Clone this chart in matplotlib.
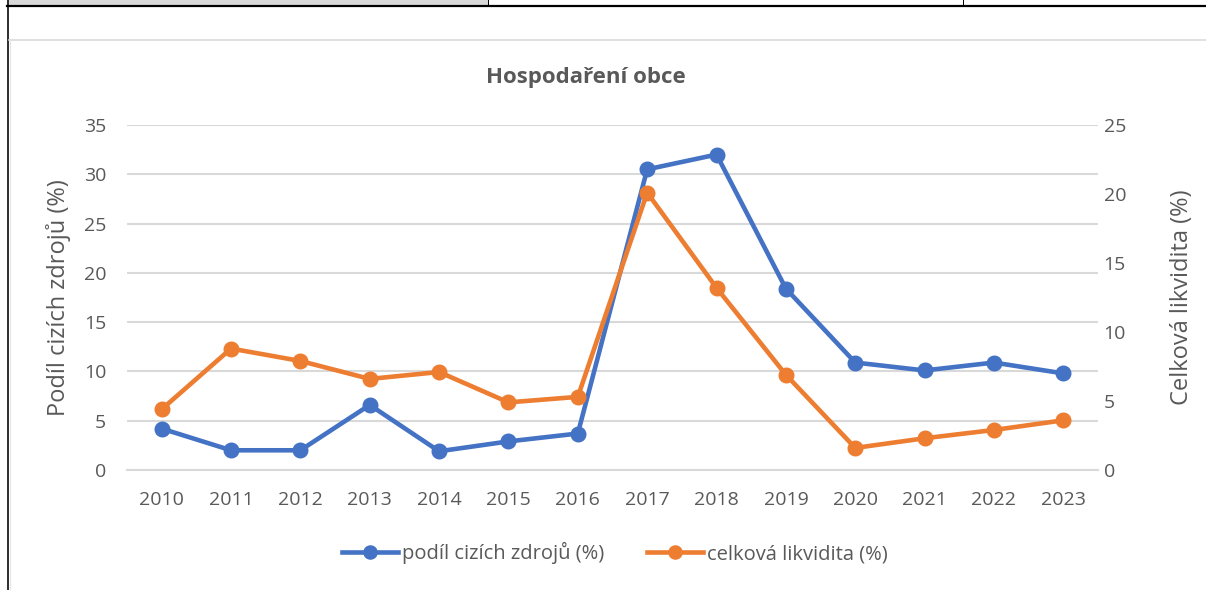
import matplotlib
matplotlib.use("Agg")
import matplotlib.pyplot as plt
from matplotlib.lines import Line2D

years = ["2010", "2011", "2012", "2013", "2014", "2015", "2016",
         "2017", "2018", "2019", "2020", "2021", "2022", "2023"]
podil_cizich = [4.2, 2.0, 2.0, 6.6, 1.9, 2.9, 3.7, 30.5, 32.0, 18.4, 10.9, 10.1, 10.9, 9.8]
likvidita = [4.4, 8.8, 7.9, 6.6, 7.1, 4.9, 5.3, 20.1, 13.2, 6.9, 1.6, 2.3, 2.9, 3.6]
left_ticks = [0, 5, 10, 15, 20, 25, 30, 35]
right_ticks = [0, 5, 10, 15, 20, 25]

BLUE = "#4472C4"
ORANGE = "#ED7D31"
GREY = "#595959"
GRID = "#D9D9D9"

plt.rcParams['font.family'] = ['Open Sans', 'DejaVu Sans']

W, H = 1206, 590
fig = plt.figure(figsize=(W / 100, H / 100), dpi=100)

# decorative frame (document table fragment)
def px(x, y):
    return x / W, 1 - y / H

fig.patches.append(plt.Rectangle(px(9, 5), (488 - 9) / W, 5 / H, transform=fig.transFigure,
                                 facecolor="#D9D9D9", edgecolor="none"))
for (x0, y0, x1, y1, c, lw) in [
    (7, 5.5, 1206, 5.5, "black", 2.2),
    (8, 0, 8, 590, "black", 1.6),
    (488, 0, 488, 5.5, "black", 1.0),
    (963, 0, 963, 5.5, "black", 1.0),
    (9, 40, 1206, 40, "#D9D9D9", 1.6),
    (10, 40, 10, 590, "#E6E6E6", 1.2),
]:
    a, b = px(x0, y0)
    c2, d = px(x1, y1)
    fig.add_artist(Line2D([a, c2], [b, d], transform=fig.transFigure, color=c, lw=lw * 0.72))

ax = fig.add_axes([127 / W, 1 - 470 / H, (1098 - 127) / W, (470 - 125) / H])
ax2 = ax.twinx()

x = list(range(len(years)))
ax.plot(x, podil_cizich, color=BLUE, lw=3.3, marker="o", ms=10.5, zorder=3,
        label="podíl cizích zdrojů (%)")
ax2.plot(x, likvidita, color=ORANGE, lw=3.3, marker="o", ms=10.5, zorder=3,
         label="celková likvidita (%)")

ax.set_xlim(-0.5, len(years) - 0.5)
ax.set_ylim(0, 35)
ax2.set_ylim(0, 25)
ax.set_yticks(left_ticks)
ax2.set_yticks(right_ticks)
ax.set_xticks(x)
ax.set_xticklabels(years)

ax.grid(axis="y", color=GRID, lw=1.5)
ax.set_axisbelow(True)
for a in (ax, ax2):
    for s in a.spines.values():
        s.set_visible(False)
    a.tick_params(length=0, colors=GREY, labelsize=14)
ax.tick_params(axis="y", pad=15)
ax2.tick_params(axis="y", pad=4)
ax.tick_params(axis="x", pad=15)
ax.spines["bottom"].set_visible(True)
ax.spines["bottom"].set_color(GRID)
ax.spines["bottom"].set_linewidth(1.5)

ax.set_ylabel("Podíl cizích zdrojů (%)", color=GREY, fontsize=17, labelpad=9)
ax2.set_ylabel("Celková likvidita (%)", color=GREY, fontsize=17, labelpad=32)

fig.text(586 / W, 1 - 77 / H, "Hospodaření obce", ha="center", va="center",
         fontsize=16, fontweight="bold", color=GREY)

h1, l1 = ax.get_legend_handles_labels()
h2, l2 = ax2.get_legend_handles_labels()
fig.legend(h1 + h2, l1 + l2, loc="center", bbox_to_anchor=(615 / W, 1 - 553 / H),
           ncol=2, frameon=False, fontsize=14.5, labelcolor=GREY, handlelength=2.8,
           handletextpad=0.2, columnspacing=2.1, markerscale=0.9)

fig.savefig("out.png", dpi=100)
